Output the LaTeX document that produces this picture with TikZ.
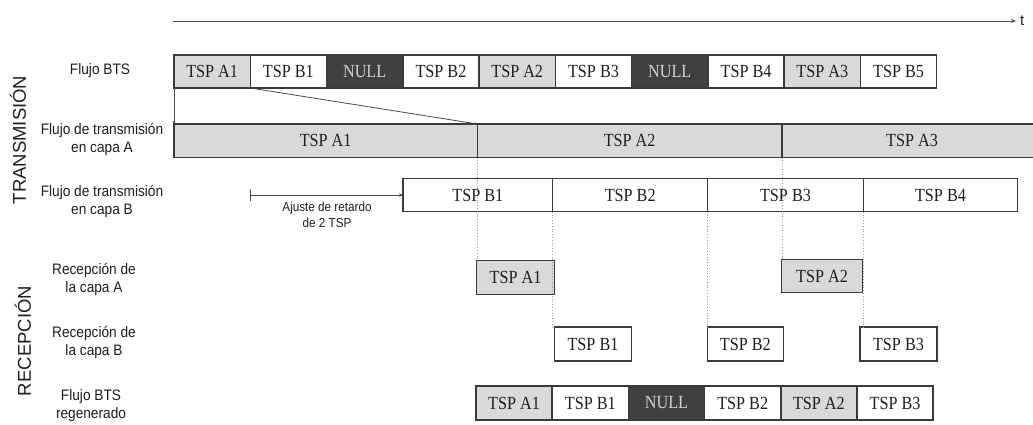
\documentclass[tikz,border=0pt]{standalone}
\usepackage{fontspec}
\usetikzlibrary{arrows.meta}

% Fonts: condensed serif for packet cells, sans for the row captions
\newfontfamily\cellfont[FakeStretch=0.875]{Liberation Serif}
\newfontfamily\labelfont[FakeStretch=0.9]{Liberation Sans}
\newfontfamily\sidefont{Liberation Sans}

\definecolor{edge}{HTML}{3A3A3A}
\definecolor{ink}{HTML}{1E1E1E}
\definecolor{shadeA}{HTML}{D9D9D9}
\definecolor{nullfill}{HTML}{404040}
\definecolor{nulltext}{HTML}{D2D2D2}
\definecolor{guidegray}{HTML}{9A9A9A}
\definecolor{wire}{HTML}{4A4A4A}

\tikzset{
  cell/.style={draw=edge, line width=1.5pt, inner sep=0pt, outer sep=0pt,
    font=\cellfont\fontsize{18.5}{20}\selectfont, text=ink},
  cellA/.style={cell, fill=shadeA},
  cellB/.style={cell, fill=white},
  cellN/.style={cell, fill=nullfill, text=nulltext},
  rowlabel/.style={align=center, inner sep=0pt,
    font=\labelfont\fontsize{15.2}{18}\selectfont, text=ink},
  notelabel/.style={align=center, inner sep=0pt,
    font=\labelfont\fontsize{13}{16}\selectfont, text=ink},
  sidelabel/.style={rotate=90, inner sep=0pt,
    font=\sidefont\fontsize{18.5}{20}\selectfont, text=ink},
  guide/.style={draw=guidegray, dotted, line width=0.8pt},
  feed/.style={draw=wire, line width=0.8pt, -{Stealth[length=3pt,width=3pt]}},
  timeaxis/.style={draw=wire, line width=0.9pt, -{Stealth[length=5pt,width=4pt]}},
  delay/.style={draw=wire, line width=0.8pt,
    {Bar[width=12pt]}-{Stealth[length=4pt,width=3.5pt]}},
}

% packet cell given by its left, right, top and bottom edges
\newcommand\tspbox[7]{%
  \node[#1, minimum width={(#4)-(#3)}, minimum height={(#6)-(#5)}]
    (#2) at ({((#3)+(#4))/2},{((#5)+(#6))/2}) {#7};}

\begin{document}
\begin{tikzpicture}[x=1pt, y=-1pt]
\useasboundingbox (0,0) rectangle (1033,424);
\fill[white] (0,0) rectangle (1033,424);
\clip (0,0) rectangle (1033,424);

% time axis
\coordinate (t0) at (173,21);
\node[anchor=west, inner xsep=4pt, inner ysep=0pt,
      font=\sidefont\fontsize{15}{16}\selectfont, text=ink] (tl) at (1016,21) {t};
\draw[timeaxis] (t0) -- (tl.west);

% side captions
\node[sidelabel] (tx) at (18,140) {TRANSMISIÓN};
\node[sidelabel] (rx) at (23,341) {RECEPCIÓN};

% row captions
\node[rowlabel] (l1) at (100,71) {Flujo BTS};
\node[rowlabel] (l2) at (102,139) {Flujo de transmisión\\en capa A};
\node[rowlabel] (l3) at (102,201) {Flujo de transmisión\\en capa B};
\node[rowlabel] (l4) at (94,279) {Recepción de\\la capa A};
\node[rowlabel] (l5) at (94,342) {Recepción de\\la capa B};
\node[rowlabel] (l6) at (91,406) {Flujo BTS\\regenerado};

% BTS stream
\foreach \s/\n/\t [count=\i from 0] in
  {cellA/bts1/TSP A1, cellB/bts2/TSP B1, cellN/bts3/NULL, cellB/bts4/TSP B2,
   cellA/bts5/TSP A2, cellB/bts6/TSP B3, cellN/bts7/NULL, cellB/bts8/TSP B4,
   cellA/bts9/TSP A3, cellB/bts10/TSP B5}
  {\tspbox{\s}{\n}{174+\i*76.27}{174+(\i+1)*76.27}{55}{88}{\t}}

% layer A transmission
\tspbox{cellA}{a1}{174}{477.3}{124}{157.5}{TSP A1}
\tspbox{cellA}{a2}{477.3}{782}{124}{157.5}{TSP A2}
\tspbox{cellA}{a3}{782}{1042}{124}{157.5}{TSP A3}

% layer B transmission
\tspbox{cellB}{b1}{403}{552.7}{178.3}{211.7}{TSP B1}
\tspbox{cellB}{b2}{552.7}{707.7}{178.3}{211.7}{TSP B2}
\tspbox{cellB}{b3}{707.7}{863.3}{178.3}{211.7}{TSP B3}
\tspbox{cellB}{b4}{863.3}{1017.7}{178.3}{211.7}{TSP B4}

% layer A reception
\tspbox{cellA}{ra1}{476.7}{554.3}{260.5}{294.5}{TSP A1}
\tspbox{cellA}{ra2}{781.7}{862.3}{259.5}{292.5}{TSP A2}

% layer B reception
\tspbox{cellB}{rb1}{554.3}{631.7}{327}{361}{TSP B1}
\tspbox{cellB}{rb2}{707.3}{783.3}{327}{361}{TSP B2}
\tspbox{cellB}{rb3}{860}{937}{327}{361}{TSP B3}

% regenerated BTS stream
\foreach \s/\n/\t [count=\i from 0] in
  {cellA/rg1/TSP A1, cellB/rg2/TSP B1, cellN/rg3/NULL,
   cellB/rg4/TSP B2, cellA/rg5/TSP A2, cellB/rg6/TSP B3}
  {\tspbox{\s}{\n}{476+\i*76.2}{476+(\i+1)*76.2}{386}{420}{\t}}

% mapping of the BTS packets onto the layer A slot
\draw[feed] (bts1.south west) -- (a1.north west);
\draw[feed] (bts2.south west) -- (a1.north east);

% delay adjustment of layer B
\coordinate (d0) at (250,195);
\draw[delay] (d0) -- (b1.west);
\node[notelabel] (ajuste) at (327,215) {Ajuste de retardo\\de 2 TSP};

% timing guides down to the receiver
\draw[guide] (a1.south east) -- (a1.south east |- ra1.north);
\draw[guide] (b1.south east) -- (b1.south east |- rb1.north);
\draw[guide] (b2.south east) -- (b2.south east |- rb2.north);
\draw[guide] (a2.south east) -- (a2.south east |- ra2.north);
\draw[guide] (b3.south east) -- (b3.south east |- rb3.north);
\end{tikzpicture}
\end{document}
